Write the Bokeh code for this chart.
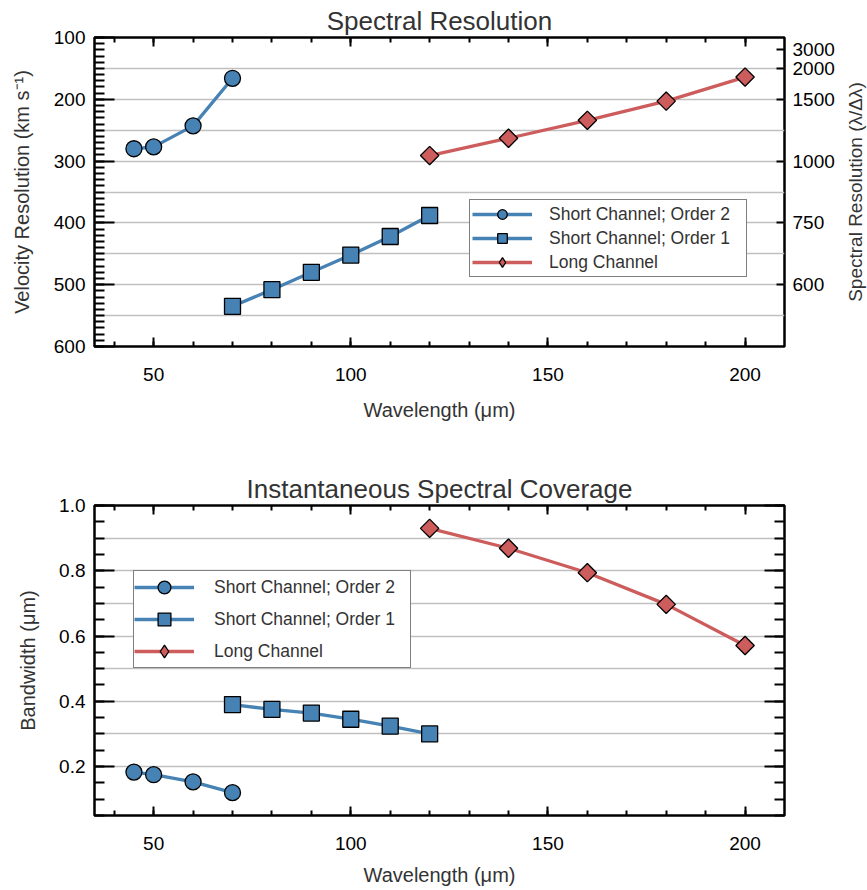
import math
from bokeh.plotting import figure
from bokeh.models import (LinearAxis, FixedTicker, Range1d, Legend, LegendItem,
                          PrintfTickFormatter, Title)
from bokeh.layouts import column, row
from bokeh.embed import file_html
from bokeh.resources import INLINE

# ---------------- data ----------------
series_names = ["Short Channel; Order 2", "Short Channel; Order 1", "Long Channel"]

wl_order2 = [45, 50, 60, 70]
wl_order1 = [70, 80, 90, 100, 110, 120]
wl_long = [120, 140, 160, 180, 200]

vel_order2 = [280, 277, 243, 166]
vel_order1 = [535, 508, 480, 452, 422, 388]
vel_long = [291, 263, 234, 203, 164]

bw_order2 = [0.183, 0.175, 0.153, 0.120]
bw_order1 = [0.390, 0.375, 0.364, 0.345, 0.324, 0.300]
bw_long = [0.930, 0.869, 0.794, 0.697, 0.571]

# ticks
x_major = [50, 100, 150, 200]
x_minor = [40, 50, 60, 70, 80, 90, 100, 110, 120, 130, 140, 150, 160, 170, 180, 190, 200]
vel_major = [100, 200, 300, 400, 500, 600]
vel_minor = list(range(100, 601, 10))
vel_grid = [150, 200, 250, 300, 350, 400, 450, 500, 550]
R_labels = ["3000", "2000", "1500", "1000", "750", "600"]
R_tick_vel = [120, 150, 200, 300, 400, 500]
bw_major = [0.2, 0.4, 0.6, 0.8, 1.0]
bw_minor = [0.05, 0.1, 0.15, 0.2, 0.25, 0.3, 0.35, 0.4, 0.45, 0.5,
            0.55, 0.6, 0.65, 0.7, 0.75, 0.8, 0.85, 0.9, 0.95, 1.0]
bw_grid = [0.2, 0.3, 0.4, 0.5, 0.6, 0.7, 0.8, 0.9]

FONT = "Liberation Sans"
BLUE = "#4682B4"
RED = "#CD5C5C"
TXT = "#333333"
W = 867
W_SIDE = 25
FRAME_L, FRAME_R = 94, 784
H1 = 468


def style_axis(ax, major_in, minor_in, standoff=9, label_size="19px"):
    ax.axis_line_color = None
    ax.major_tick_in = major_in
    ax.major_tick_out = 0
    ax.minor_tick_in = minor_in
    ax.minor_tick_out = 0
    ax.major_tick_line_width = 2
    ax.minor_tick_line_width = 2
    ax.major_tick_line_color = "black"
    ax.minor_tick_line_color = "black"
    ax.major_label_text_font = FONT
    ax.major_label_text_font_size = label_size
    ax.major_label_text_color = "black"
    ax.major_label_standoff = standoff
    ax.axis_label_text_font = FONT
    ax.axis_label_text_font_size = "20px"
    ax.axis_label_text_font_style = "normal"
    ax.axis_label_text_color = TXT


def mirror_axis(p, ticks, minor, major_in, minor_in, side):
    ax = LinearAxis(ticker=FixedTicker(ticks=ticks, minor_ticks=minor),
                    major_label_overrides={t: "" for t in ticks})
    style_axis(ax, major_in, minor_in, standoff=0, label_size="0px")
    p.add_layout(ax, side)
    return ax


def style_fig(p, title_text):
    p.title.text = title_text
    p.title.text_font = FONT
    p.title.text_font_size = "26px"
    p.title.text_font_style = "normal"
    p.title.text_color = TXT
    p.title.align = "center"
    p.title.standoff = 3
    p.outline_line_color = "black"
    p.outline_line_width = 2.5
    p.xgrid.visible = False
    p.ygrid.grid_line_color = "#c0c0c0"
    p.ygrid.grid_line_width = 1.5
    p.background_fill_color = "white"
    p.border_fill_color = "white"


def add_series(p, xs, ys, color, marker, size):
    l = p.line(xs, ys, line_color=color, line_width=3.3)
    s = p.scatter(xs, ys, marker=marker, size=size,
                  fill_color=color, line_color="black", line_width=1.3)
    return [l, s]


def add_long(p, xs, ys):
    l = p.line(xs, ys, line_color=RED, line_width=3.3)
    p.scatter(xs, ys, marker="square", size=13, angle=math.pi / 4,
              fill_color=RED, line_color="black", line_width=1.3)
    # legend-only diamond (hidden in the plot)
    d = p.scatter(xs, ys, marker="diamond", size=18, fill_color=RED,
                  line_color="black", line_width=1.3, visible=False)
    return [l, d]


def make_legend(p, groups, loc, gh, pad, standoff, label_width):
    items = [LegendItem(label=n, renderers=g) for n, g in zip(series_names, groups)]
    lg = Legend(items=items, location=loc, margin=0, padding=pad, spacing=0,
                glyph_width=60, glyph_height=gh, label_height=gh, label_width=label_width,
                label_standoff=standoff,
                label_text_font=FONT, label_text_font_size="17.5px", label_text_color=TXT,
                border_line_color="black", border_line_width=1.2,
                background_fill_color="white", background_fill_alpha=1.0,
                inactive_fill_alpha=0.0)
    p.add_layout(lg)
    return lg


# ---------------- top: spectral resolution ----------------
p1 = figure(width=W - W_SIDE, height=H1, x_range=Range1d(35, 210), y_range=Range1d(600, 100),
            output_backend="svg", toolbar_location=None,
            min_border_left=FRAME_L, min_border_right=W - W_SIDE - FRAME_R, min_border_top=37,
            min_border_bottom=H1 - 346)
style_fig(p1, "Spectral Resolution")

xa = p1.xaxis[0]
xa.ticker = FixedTicker(ticks=x_major, minor_ticks=x_minor)
style_axis(xa, 9, 5, standoff=21)
xa.axis_label = "Wavelength (μm)"
xa.axis_label_standoff = 15

ya = p1.yaxis[0]
ya.ticker = FixedTicker(ticks=vel_major, minor_ticks=vel_minor)
style_axis(ya, 20, 10, standoff=9)
ya.axis_label = "Velocity Resolution (km s⁻¹)"
ya.axis_label_standoff = 18

p1.ygrid.ticker = FixedTicker(ticks=vel_grid)

mirror_axis(p1, x_major, x_minor, 9, 5, "above")

ar = LinearAxis(ticker=FixedTicker(ticks=R_tick_vel, minor_ticks=[]),
                major_label_overrides=dict(zip(R_tick_vel, R_labels)))
style_axis(ar, 8, 0, standoff=8)
p1.add_layout(ar, "right")

g1 = [add_series(p1, wl_order2, vel_order2, BLUE, "circle", 16),
      add_series(p1, wl_order1, vel_order1, BLUE, "square", 16),
      add_long(p1, wl_long, vel_long)]
make_legend(p1, g1, (375, 69), 24, 2, 17, 195)

# narrow side panel carrying the right-hand axis title (reads bottom-to-top)
p_side = figure(width=W_SIDE, height=H1, x_axis_type=None, y_axis_type=None,
                output_backend="svg", toolbar_location=None,
                min_border_left=0, min_border_right=0, min_border_top=37,
                min_border_bottom=H1 - 346)
p_side.outline_line_color = None
p_side.background_fill_color = "white"
p_side.border_fill_color = "white"
p_side.add_layout(Title(text="Spectral Resolution (λ/Δλ)", align="center",
                        text_font=FONT, text_font_size="19px", text_font_style="normal",
                        text_color=TXT, standoff=0), "left")

# ---------------- bottom: spectral coverage ----------------
H2 = 890 - H1
p2 = figure(width=W, height=H2, x_range=Range1d(35, 210), y_range=Range1d(0.05, 1.0),
            output_backend="svg", toolbar_location=None,
            min_border_left=FRAME_L, min_border_right=W - FRAME_R, min_border_top=505 - H1,
            min_border_bottom=H2 - (815 - H1))
style_fig(p2, "Instantaneous Spectral Coverage")

xb = p2.xaxis[0]
xb.ticker = FixedTicker(ticks=x_major, minor_ticks=x_minor)
style_axis(xb, 9, 5, standoff=21)
xb.axis_label = "Wavelength (μm)"
xb.axis_label_standoff = 11

yb = p2.yaxis[0]
yb.ticker = FixedTicker(ticks=bw_major, minor_ticks=bw_minor)
yb.formatter = PrintfTickFormatter(format="%.1f")
style_axis(yb, 20, 10, standoff=9)
yb.axis_label = "Bandwidth (μm)"
yb.axis_label_standoff = 17

p2.ygrid.ticker = FixedTicker(ticks=bw_grid)

mirror_axis(p2, x_major, x_minor, 9, 5, "above")
mirror_axis(p2, bw_major, bw_minor, 20, 10, "right")

g2 = [add_series(p2, wl_order2, bw_order2, BLUE, "circle", 16),
      add_series(p2, wl_order1, bw_order1, BLUE, "square", 16),
      add_long(p2, wl_long, bw_long)]
make_legend(p2, g2, (39, 147), 32, 0, 20, 196)

layout = column(row(p1, p_side), p2)
open("out.html", "w").write(file_html(layout, INLINE))
